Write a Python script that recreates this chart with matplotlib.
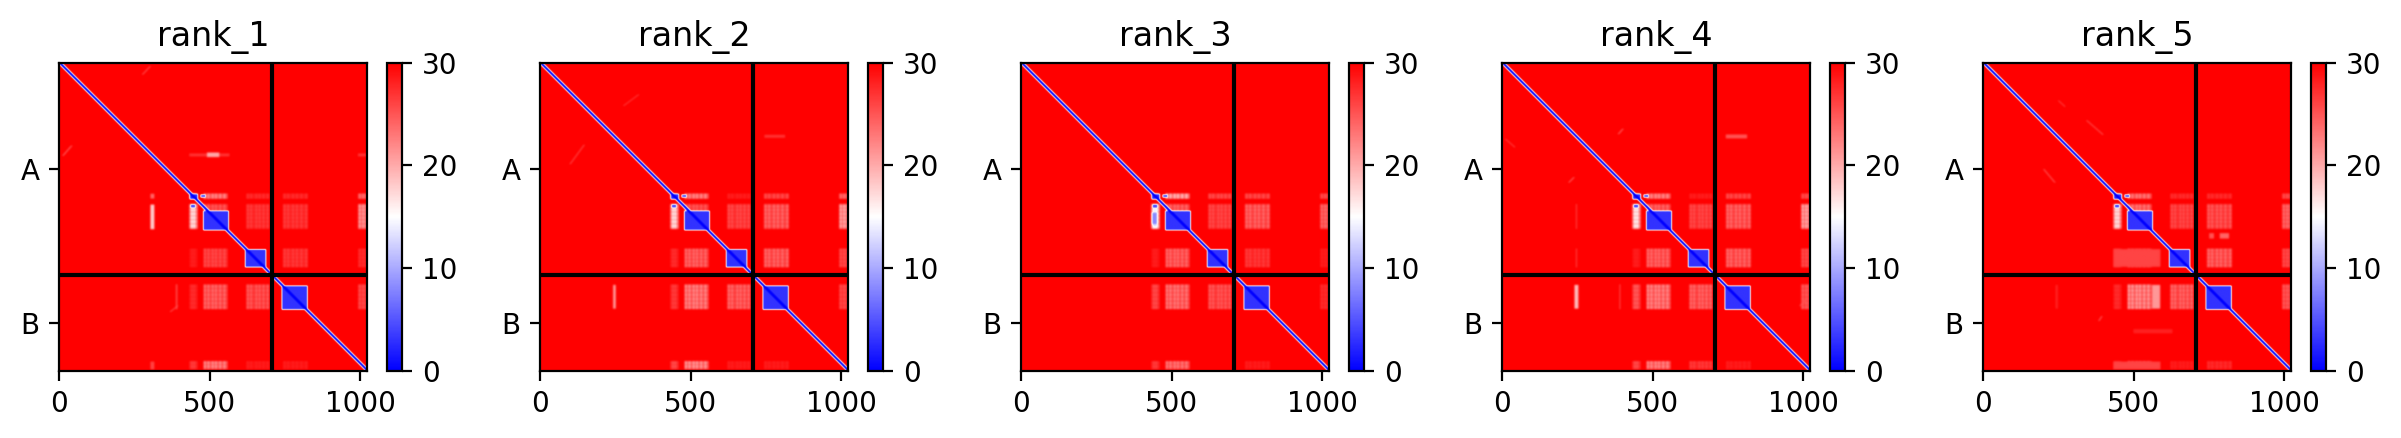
import numpy as np
import matplotlib
matplotlib.use("Agg")
import matplotlib.pyplot as plt

# ---- values (residue numbers and PAE values) ----
rank_names = ["rank_1", "rank_2", "rank_3", "rank_4", "rank_5"]
chain_lengths = [707, 317]
chain_names = ["A", "B"]
x_tick_values = [0, 500, 1000]
colorbar_ticks = [0, 10, 20, 30]
pae_max = 30

# domains on the diagonal: x0, x1, y0, y1, value
domain_blocks = [
    (480, 564, 495, 559, 3.0),
    (619, 688, 623, 682, 3.0),
    (741, 826, 744, 823, 3.0),
    (435, 461, 439, 456, 2.5),
    (471, 487, 441, 450, 4.0),
    (438, 453, 474, 484, 4.0),
]

# bands of faint inter-domain signal
row_bands = [(437, 455), (472, 555), (620, 683), (739, 822), (994, 1022)]
col_bands = [(433, 461), (480, 561), (622, 700), (744, 828), (994, 1022)]
column_stripes = [442, 450, 485, 497, 511, 522, 536, 550, 628, 639, 656, 667,
                  680, 694, 750, 762, 778, 791, 806, 822, 1000, 1011, 1020]
row_stripes = [442, 450, 480, 492, 505, 518, 531, 545, 626, 638, 650, 663, 676,
               746, 760, 774, 788, 802, 816, 1000, 1012]

# value of band crossing: one row per row band, one entry per column band
cross_rank_1 = [[16, 21, 27, 27, 23], [15, 24, 26, 26, 20], [28, 25, 30, 26, 27],
                [27, 23, 24, 30, 25], [26, 21, 28, 28, 30]]
cross_rank_2 = [[16, 21, 28, 25, 23], [15, 24, 25, 23, 19], [27, 23, 30, 23, 25],
                [26, 21, 23, 30, 25], [25, 20, 28, 28, 30]]
cross_rank_3 = [[15, 18, 25, 25, 25], [11, 23, 25, 23, 23], [28, 23, 30, 26, 28],
                [25, 22, 24, 30, 27], [26, 22, 30, 28, 30]]
cross_rank_4 = [[16, 21, 28, 25, 25], [14, 23, 25, 23, 19], [28, 23, 30, 23, 25],
                [24, 21, 23, 30, 24], [25, 21, 26, 28, 30]]
cross_rank_5 = [[16, 22, 27, 27, 25], [15, 22, 25, 24, 23], [25, 23, 30, 23, 25],
                [27, 20, 23, 30, 24], [26, 22, 28, 27, 30]]
cross_tables = [cross_rank_1, cross_rank_2, cross_rank_3, cross_rank_4, cross_rank_5]

# isolated patches: x0, x1, y0, y1, value
patches_rank_1 = [(304, 317, 474, 556, 18), (304, 317, 438, 454, 24), (433, 567, 304, 314, 27),
                  (492, 533, 301, 316, 20), (994, 1022, 304, 314, 27), (304, 317, 996, 1022, 26),
                  (388, 394, 739, 822, 26)]
patches_rank_2 = [(243, 252, 741, 820, 21), (746, 815, 242, 252, 27), (772, 798, 244, 251, 27)]
patches_rank_3 = [(435, 453, 500, 540, 8)]
patches_rank_4 = [(241, 254, 741, 820, 19), (744, 815, 241, 254, 25), (390, 394, 739, 822, 26),
                  (245, 250, 472, 555, 27), (245, 250, 620, 683, 27)]
patches_rank_5 = [(433, 590, 622, 681, 26), (562, 589, 741, 820, 21), (752, 768, 569, 587, 25),
                  (787, 818, 569, 587, 24), (500, 630, 888, 902, 28), (433, 590, 996, 1022, 26),
                  (241, 249, 741, 820, 28)]
patch_tables = [patches_rank_1, patches_rank_2, patches_rank_3, patches_rank_4, patches_rank_5]

# thin streaks: x0, y0, x1, y1, value
streaks_rank_1 = [(278, 41, 303, 14, 25), (13, 311, 42, 278, 24), (370, 830, 395, 810, 25)]
streaks_rank_2 = [(100, 339, 147, 275, 26), (278, 145, 328, 108, 26)]
streaks_rank_3 = []
streaks_rank_4 = [(11, 256, 42, 283, 26), (222, 400, 239, 383, 24), (387, 239, 402, 222, 24),
                  (990, 810, 1010, 790, 25)]
streaks_rank_5 = [(344, 194, 398, 241, 25), (202, 356, 239, 400, 25), (250, 128, 272, 148, 26),
                  (385, 860, 395, 845, 25)]
streak_tables = [streaks_rank_1, streaks_rank_2, streaks_rank_3, streaks_rank_4, streaks_rank_5]

diagonal_half_width = 6
diagonal_value = 0.0
column_gap_share = 0.6
row_gap_share = 0.8
background_smoothing = 3.0
domain_smoothing = 2.0


def smooth(a, sigma):
    reach = int(3 * sigma) + 1
    t = np.arange(-reach, reach + 1)
    kernel = np.exp(-t ** 2 / (2 * sigma ** 2))
    kernel /= kernel.sum()
    p = np.pad(a, reach, mode="edge")
    p = np.apply_along_axis(lambda m: np.convolve(m, kernel, mode="same"), 0, p)
    p = np.apply_along_axis(lambda m: np.convolve(m, kernel, mode="same"), 1, p)
    return p[reach:-reach, reach:-reach]


def stripe_mask(n, positions, gap_share):
    mask = np.full(n, gap_share)
    for p in positions:
        mask[max(p - 3, 0):min(p + 3, n)] = 1.0
    return mask


def build_matrix(cross, patches, streaks):
    n = sum(chain_lengths)
    pae = np.full((n, n), float(pae_max))
    col_mask = stripe_mask(n, column_stripes, column_gap_share)
    row_mask = stripe_mask(n, row_stripes, row_gap_share)
    for r, (y0, y1) in enumerate(row_bands):
        for c, (x0, x1) in enumerate(col_bands):
            weight = np.outer(row_mask[y0:y1], col_mask[x0:x1])
            pae[y0:y1, x0:x1] = pae_max - (pae_max - cross[r][c]) * weight
    for x0, x1, y0, y1, v in patches:
        pae[y0:y1, x0:x1] = v
    for x0, y0, x1, y1, v in streaks:
        steps = max(abs(x1 - x0), abs(y1 - y0)) + 1
        xs = np.linspace(x0, x1, steps).astype(int)
        ys = np.linspace(y0, y1, steps).astype(int)
        for dx in (-2, -1, 0, 1, 2):
            pae[ys, np.clip(xs + dx, 0, n - 1)] = v
    pae = smooth(pae, background_smoothing)
    # domains and the diagonal are laid over it with a crisper edge
    cover = np.zeros((n, n))
    level = np.zeros((n, n))
    yy, xx = np.indices((n, n))
    for x0, x1, y0, y1, v in domain_blocks:
        cover[y0:y1, x0:x1] = 1.0
        level[y0:y1, x0:x1] = v
    on_diag = np.abs(xx - yy) <= diagonal_half_width
    cover[on_diag] = 1.0
    level[on_diag] = diagonal_value
    cover_s = smooth(cover, domain_smoothing)
    level_s = smooth(level * cover, domain_smoothing) / np.maximum(cover_s, 1e-3)
    return pae * (1 - cover_s) + level_s * cover_s


W, H = 2401, 438
fig = plt.figure(figsize=(W / 200, H / 200), dpi=200)
n_total = sum(chain_lengths)
chain_end = np.cumsum(chain_lengths)
chain_mid = chain_end - np.array(chain_lengths) / 2

for i, name in enumerate(rank_names):
    left = 59.3 + 481.0 * i
    ax = fig.add_axes([left / W, 1 - 370.5 / H, 308 / W, 308 / H])
    cax = fig.add_axes([(left + 328) / W, 1 - 370.5 / H, 15 / W, 308 / H])
    mat = build_matrix(cross_tables[i], patch_tables[i], streak_tables[i])
    im = ax.imshow(mat, cmap="bwr", vmin=0, vmax=pae_max, extent=(0, n_total, n_total, 0))
    for boundary in chain_end[:-1]:
        ax.plot([0, n_total], [boundary, boundary], color="black")
        ax.plot([boundary, boundary], [0, n_total], color="black")
    ax.set_xlim(0, n_total)
    ax.set_ylim(n_total, 0)
    ax.set_xticks(x_tick_values)
    ax.set_yticks(chain_mid)
    ax.set_yticklabels(chain_names)
    ax.set_title(name)
    cb = fig.colorbar(im, cax=cax)
    cb.set_ticks(colorbar_ticks)

fig.savefig("out.png", dpi=200)
